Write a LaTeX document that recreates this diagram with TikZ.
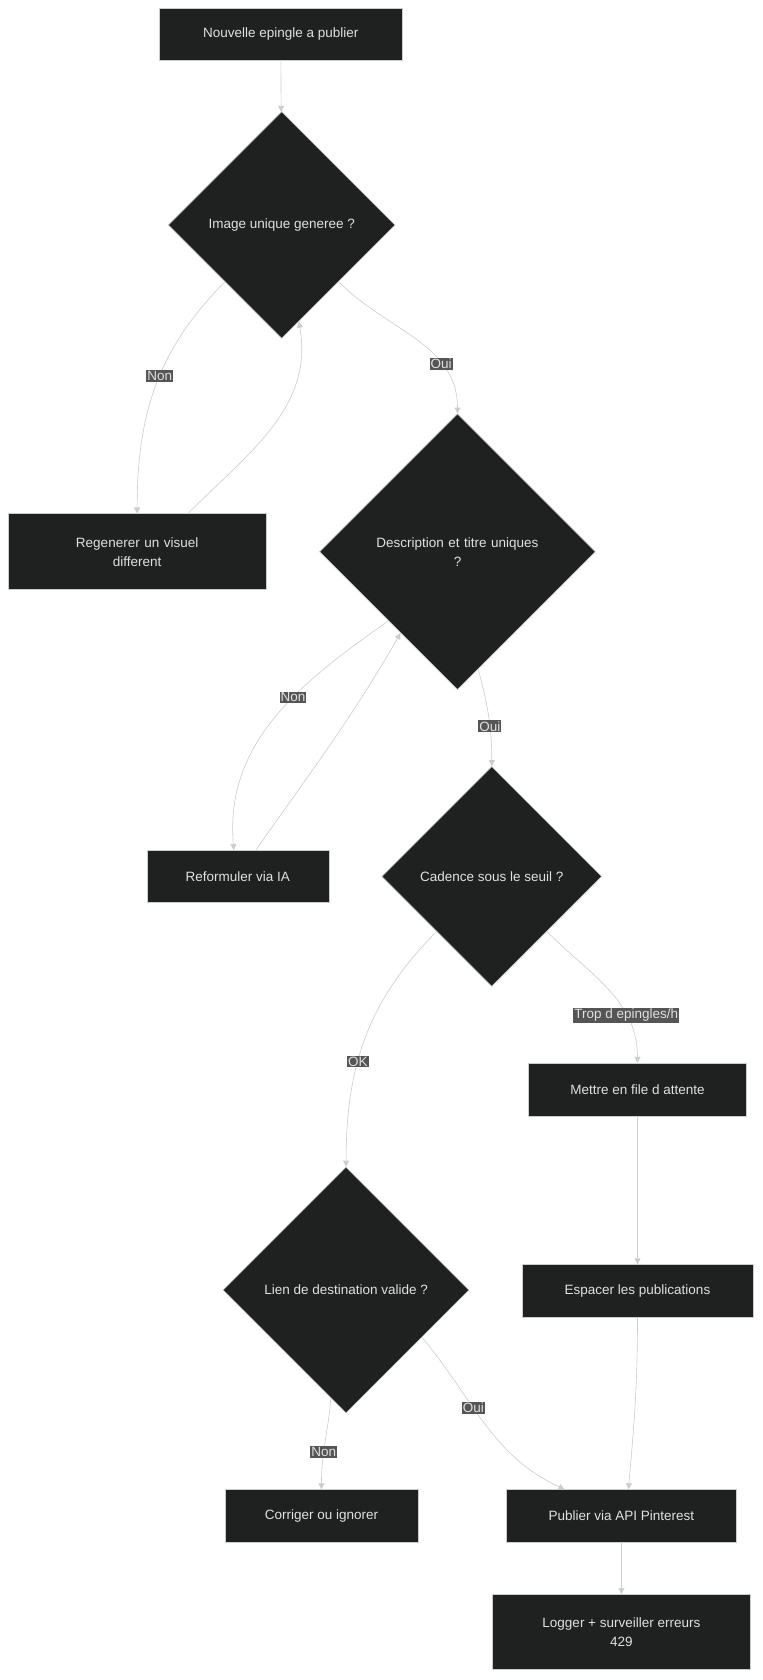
\documentclass[tikz,border=0pt]{standalone}
\usepackage{fontspec}
\setmainfont{Liberation Sans}
\usetikzlibrary{shapes.geometric,arrows.meta}
\definecolor{nfill}{HTML}{1F2020}
\definecolor{nline}{HTML}{CCCCCC}
\definecolor{ntext}{HTML}{E0E0E0}
\definecolor{lbg}{HTML}{555555}
\begin{document}
\begin{tikzpicture}[x=1.0716pt,y=-1.0716pt,
 box/.style={draw=nline,fill=nfill,text=ntext,line width=0.6pt,minimum width=#1,inner sep=0pt,align=center,font=\fontsize{13.5}{19}\selectfont},
 dia/.style={draw=nline,fill=nfill,text=ntext,diamond,line width=0.6pt,minimum size=#1,inner sep=0pt,align=center,font=\fontsize{13.5}{19}\selectfont},
 e/.style={draw=nline,line width=0.6pt,-{Triangle[length=6pt,width=6pt]}},
 lb/.style={fill=lbg,text=ntext,inner sep=1pt,font=\fontsize{13.5}{15}\selectfont}]
\useasboundingbox (0,0) rectangle (712,1568);
\node[box=243pt,minimum height=52pt] (s) at (262,32) {Nouvelle epingle a publier};
\node[dia=227pt] (d1) at (263,210) {Image unique generee ?};
\node[box=258pt,minimum height=76pt,text width=150pt] (rg) at (128,515) {Regenerer un visuel\\different};
\node[dia=276pt,text width=190pt] (d2) at (427,515) {Description et titre uniques\\?};
\node[box=182pt,minimum height=52pt] (rf) at (222,818) {Reformuler via IA};
\node[dia=220pt] (d3) at (459,818) {Cadence sous le seuil ?};
\node[box=218pt,minimum height=53pt] (m) at (595,1017) {Mettre en file d attente};
\node[dia=246pt] (d4) at (323,1204) {Lien de destination valide ?};
\node[box=231pt,minimum height=53pt] (es) at (595,1205) {Espacer les publications};
\node[box=193pt,minimum height=53pt] (c) at (300,1415) {Corriger ou ignorer};
\node[box=230pt,minimum height=53pt] (p) at (580,1415) {Publier via API Pinterest};
\node[box=258pt,minimum height=75pt] (lg) at (580,1523) {Logger + surveiller erreurs\\429};
\draw[e] (s) -- (d1);
\draw[e] (d1.south west) to[out=225,in=90] node[lb,pos=0.45]{Non} (rg.north);
\draw[e] (rg.37) to[out=45,in=-80] (d1.-80);
\draw[e] (d1.south east) to[out=-45,in=90] node[lb,pos=0.7]{Oui} (d2.north);
\draw[e] (d2.south west) to[out=215,in=95] node[lb,pos=0.4]{Non} ([xshift=-4]rf.north);
\draw[e] ([xshift=18]rf.north) to[out=55,in=-120] (d2.-125);
\draw[e] (d2.-80) to[out=-75,in=90] node[lb,pos=0.6]{Oui} (d3.north);
\draw[e] (d3.south west) to[out=225,in=90] node[lb,pos=0.6]{OK} (d4.north);
\draw[e] (d3.south east) to[out=-45,in=90] node[lb,pos=0.7]{Trop d epingles/h} (m.north);
\draw[e] (m) -- (es);
\draw[e] (es.south) to[out=-90,in=85] ([xshift=7]p.north);
\draw[e] (d4.-98) to[out=-95,in=90] node[lb,pos=0.6]{Non} (c.north);
\draw[e] (d4.-32) to[out=-50,in=155] node[lb,pos=0.4]{Oui} ([xshift=-57]p.north);
\draw[e] (p) -- (lg);
\end{tikzpicture}
\end{document}
